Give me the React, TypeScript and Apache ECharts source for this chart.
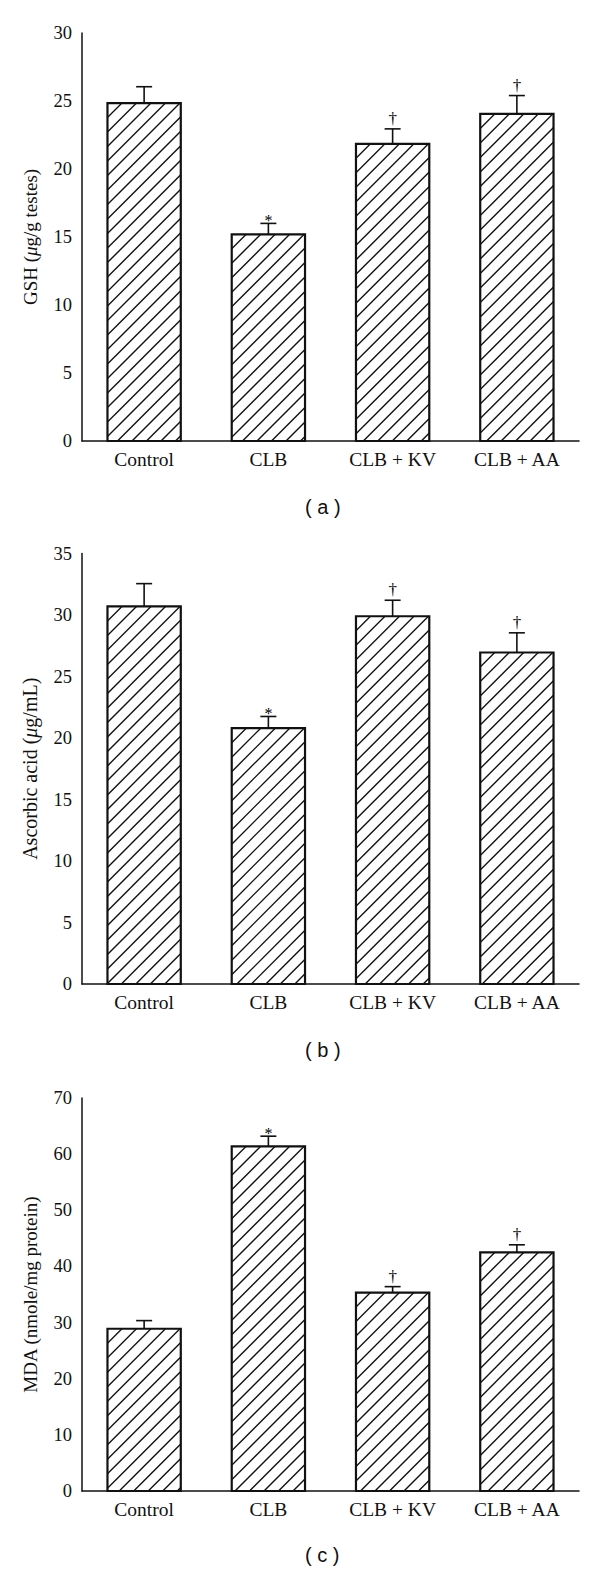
import React, { useEffect, useRef } from 'react';
import * as echarts from 'echarts';

const categories = ['Control', 'CLB', 'CLB + KV', 'CLB + AA'];

const gshMean = [24.85, 15.2, 21.85, 24.05];
const gshErr = [1.2, 0.8, 1.1, 1.35];
const gshMarks = ['', '*', '†', '†'];

const ascMean = [30.7, 20.8, 29.9, 26.95];
const ascErr = [1.85, 0.95, 1.3, 1.6];
const ascMarks = ['', '*', '†', '†'];

const mdaMean = [28.9, 61.4, 35.35, 42.5];
const mdaErr = [1.45, 1.8, 1.05, 1.35];
const mdaMarks = ['', '*', '†', '†'];

const panelLabels = ['( a )', '( b )', '( c )'];

const SERIF = '"Liberation Serif", "DejaVu Serif", serif';
const SANS = '"Liberation Sans", Arial, sans-serif';
const INK = '#111';

function makeRenderItem(marks: string[]) {
  return (params: any, api: any) => {
    const i = api.value(0);
    const v = api.value(1);
    const sd = api.value(2);
    const base = api.coord([i, 0]);
    const top = api.coord([i, v]);
    const errTop = api.coord([i, v + sd]);
    const bw = api.size([1, 0])[0] * 0.59;
    const cx = base[0];
    const xl = cx - bw / 2;
    const xr = cx + bw / 2;
    const yb = base[1];
    const yt = top[1];
    const h = yb - yt;
    const children: any[] = [];
    children.push({
      type: 'rect',
      shape: { x: xl, y: yt, width: bw, height: h },
      style: { fill: '#fff' },
    });
    const s = 14.5;
    for (let xb = xl - h; xb < xr; xb += s) {
      const t0 = Math.max(0, xl - xb);
      const t1 = Math.min(h, xr - xb);
      if (t1 > t0) {
        children.push({
          type: 'line',
          shape: { x1: xb + t0, y1: yb - t0, x2: xb + t1, y2: yb - t1 },
          style: { stroke: INK, lineWidth: 1.4 },
        });
      }
    }
    children.push({
      type: 'rect',
      shape: { x: xl, y: yt, width: bw, height: h },
      style: { fill: 'none', stroke: INK, lineWidth: 2.2 },
    });
    children.push({
      type: 'line',
      shape: { x1: cx, y1: yt, x2: cx, y2: errTop[1] },
      style: { stroke: INK, lineWidth: 1.6 },
    });
    children.push({
      type: 'line',
      shape: { x1: cx - 8, y1: errTop[1], x2: cx + 8, y2: errTop[1] },
      style: { stroke: INK, lineWidth: 1.6 },
    });
    const m = marks[params.dataIndex];
    if (m) {
      const isStar = m === '*';
      children.push({
        type: 'text',
        x: cx,
        y: errTop[1] + (isStar ? -3 : -2),
        style: {
          text: m,
          fill: '#000',
          font: `${isStar ? 16 : 17}px ${SERIF}`,
          align: 'center',
          verticalAlign: isStar ? 'middle' : 'bottom',
        },
      });
    }
    return { type: 'group', children };
  };
}

const grids = [
  { left: 82, right: 21, top: 33, height: 408 },
  { left: 82, right: 21, top: 553.5, height: 430.5 },
  { left: 82, right: 21, top: 1098, height: 393 },
];

export default function App() {
  const ref = useRef<HTMLDivElement>(null);
  useEffect(() => {
    document.body.style.margin = '0';
    if (!ref.current) return;
    const chart = echarts.init(ref.current, null, { renderer: 'svg' });
    const panels = [
      { mean: gshMean, err: gshErr, marks: gshMarks, max: 30, interval: 5, name: 'GSH ({i|μ}g/g testes)', nameSize: 19 },
      { mean: ascMean, err: ascErr, marks: ascMarks, max: 35, interval: 5, name: 'Ascorbic acid ({i|μ}g/mL)', nameSize: 20 },
      { mean: mdaMean, err: mdaErr, marks: mdaMarks, max: 70, interval: 10, name: 'MDA (nmole/mg protein)', nameSize: 19 },
    ];
    const option: any = {
      animation: false,
      backgroundColor: '#fff',
      grid: grids.map((g) => ({ ...g, containLabel: false })),
      xAxis: panels.map((_, k) => ({
        type: 'category',
        gridIndex: k,
        data: categories,
        boundaryGap: true,
        axisLine: { show: true, lineStyle: { color: INK, width: 1.5 } },
        axisTick: { show: false },
        axisLabel: { color: INK, fontFamily: SERIF, fontSize: 19.5, margin: 8 },
        splitLine: { show: false },
      })),
      yAxis: panels.map((p, k) => ({
        type: 'value',
        gridIndex: k,
        min: 0,
        max: p.max,
        interval: p.interval,
        name: p.name,
        nameLocation: 'middle',
        nameGap: 42,
        nameTextStyle: {
          color: INK,
          fontFamily: SERIF,
          fontSize: p.nameSize,
          rich: { i: { fontStyle: 'italic', fontFamily: SERIF, fontSize: p.nameSize, color: INK } },
        },
        axisLine: { show: true, lineStyle: { color: INK, width: 1.5 } },
        axisTick: { show: false },
        axisLabel: { color: INK, fontFamily: SERIF, fontSize: 18.5, margin: 10 },
        splitLine: { show: false },
      })),
      series: panels.map((p, k) => ({
        type: 'custom',
        xAxisIndex: k,
        yAxisIndex: k,
        renderItem: makeRenderItem(p.marks),
        data: p.mean.map((v, i) => [i, v, p.err[i]]),
        clip: false,
      })),
      graphic: [
        { type: 'text', left: 305, top: 497, style: { text: panelLabels[0], font: `20px ${SANS}`, fill: INK } },
        { type: 'text', left: 305, top: 1040, style: { text: panelLabels[1], font: `20px ${SANS}`, fill: INK } },
        { type: 'text', left: 305, top: 1545, style: { text: panelLabels[2], font: `20px ${SANS}`, fill: INK } },
      ],
    };
    chart.setOption(option);
    return () => chart.dispose();
  }, []);
  return <div ref={ref} style={{ width: 600, height: 1571 }} />;
}
